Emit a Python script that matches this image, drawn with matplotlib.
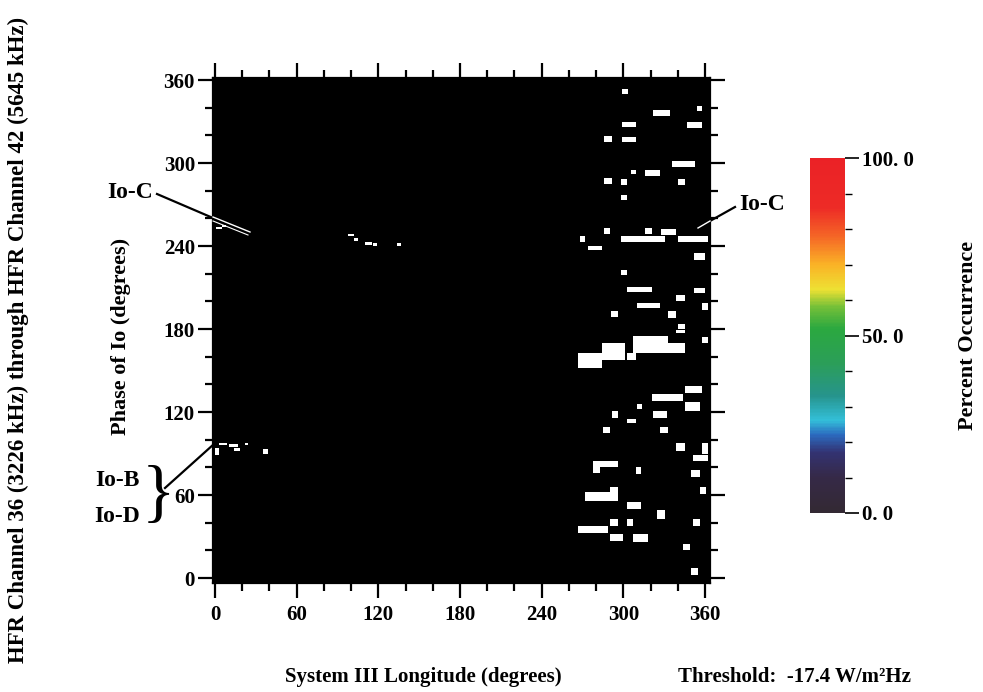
import numpy as np
import matplotlib
matplotlib.use("Agg")
import matplotlib.pyplot as plt
from matplotlib.colors import LinearSegmentedColormap
from matplotlib.cm import ScalarMappable
from matplotlib.colors import Normalize
from matplotlib.lines import Line2D

plt.rcParams['font.family'] = ['Liberation Serif', 'DejaVu Serif']

W, H = 983, 692

# white cells (percent occurrence above threshold): longitude start, width, phase start, height
cell_lon = [299, 322, 354, 299, 347, 286, 299, 336, 316, 306, 286, 298, 340, 298,
            286, 316, 328, 268, 298, 340, 274, 352, 298, 303, 352, 339, 310, 358,
            291, 333, 340, 339, 358, 307, 333, 284, 303, 267, 345, 321, 310, 345,
            292, 322, 303, 285, 327, 339, 358, 351, 278, 278, 309, 350, 356, 272,
            290, 303, 325, 290, 303, 351, 267, 290, 307, 344, 350,
            0, 3, 10, 14, 22, 35,
            1, 5, 98, 102, 110, 116, 134]
cell_dlon = [4.5, 12, 4, 10, 11, 6, 10, 17, 11, 3, 6, 5, 5, 5,
             4, 5, 11, 4, 33, 22, 10, 8, 5, 18, 8, 6, 17, 4,
             5, 6, 5, 6, 4, 26, 12, 17, 6, 17, 13, 23, 4, 11,
             4, 10, 6, 5, 6, 6, 4, 11, 5, 18, 4, 6, 5, 24,
             6, 10, 6, 6, 4, 5, 22, 10, 11, 5, 5,
             3, 6, 7, 4, 2, 4,
             4, 3, 4, 3, 5, 3, 3]
cell_phase = [350, 334, 338, 326, 325, 315, 315, 297, 291, 292, 285, 284, 284, 273,
              249, 249, 248, 243, 243, 243, 237, 230, 219, 207, 206, 200, 195, 194,
              189, 188, 180, 177, 170, 163, 163, 158, 158, 152, 134, 128, 122, 121,
              116, 116, 112, 105, 105, 92, 90, 85, 76, 80, 75, 73, 61, 56,
              62, 50, 43, 38, 38, 38, 33, 27, 26, 20, 2,
              89, 96, 95, 92, 96, 90,
              252, 254, 247, 244, 241, 240, 240]
cell_dphase = [3.5, 4.5, 3, 4, 5, 4.5, 4, 4.5, 4, 3, 4, 4.5, 4.5, 4,
               4, 4, 4.5, 4, 4, 4, 3, 5, 4, 3.5, 4, 5, 4, 5,
               4, 5, 4, 2.5, 4, 12, 7, 12, 5, 11, 5, 5, 4, 6,
               5, 5, 3, 4, 4, 6, 8, 4, 9, 5, 5, 5, 5, 6,
               4, 5, 6, 5, 5, 5, 5, 5, 6, 5, 5,
               5, 2, 2, 2, 2, 3.5,
               2, 1.5, 2, 2, 2, 2, 2]

xticks = [0, 60, 120, 180, 240, 300, 360]
yticks = [0, 60, 120, 180, 240, 300, 360]
cb_ticks = [0, 50, 100]
cb_labels = ['0. 0', '50. 0', '100. 0']


def fx(x):
    return x / W


def fy(y):
    return 1 - y / H


fig = plt.figure(figsize=(W / 100, H / 100), dpi=100)
ax = fig.add_axes([fx(213), fy(583), (710 - 213) / W, (583 - 78) / H])
ax.set_facecolor('black')
ax.bar(cell_lon, cell_dphase, width=cell_dlon, bottom=cell_phase,
       align='edge', color='white', linewidth=0)
ax.set_xlim(-1.5, 363.7)
ax.set_ylim(-3.5, 361.5)

ax.set_xticks(xticks)
ax.set_yticks(yticks)
ax.set_xticks(np.arange(0, 361, 20), minor=True)
ax.set_yticks(np.arange(0, 361, 20), minor=True)
ax.tick_params(which='both', direction='out', top=True, right=True, width=1.6,
               labelsize=15, pad=2)
ax.tick_params(which='major', length=11)
ax.tick_params(which='minor', length=6)
ax.tick_params(axis='x', pad=5)
for lab in ax.get_xticklabels() + ax.get_yticklabels():
    lab.set_fontweight('bold')
for s in ax.spines.values():
    s.set_linewidth(1.6)

# annotation lines: black outside the image, white where they cross it
def seg(p0, p1, color, lw=1.6):
    fig.add_artist(Line2D([fx(p0[0]), fx(p1[0])], [fy(p0[1]), fy(p1[1])],
                          color=color, lw=lw, transform=fig.transFigure))

seg((157, 194), (213, 218), 'black')
seg((213, 217), (250, 232), 'white', 1.0)
seg((213, 221), (248, 235), 'white', 0.8)
seg((735, 207), (710, 221), 'black')
seg((710, 221), (698, 228), 'white', 1.0)
seg((165, 488), (214, 444), 'black')

tk = dict(fontsize=17, fontweight='bold')
fig.text(fx(130), fy(193), 'Io-C', ha='center', va='center', **tk)
fig.text(fx(762), fy(204), 'Io-C', ha='center', va='center', **tk)
fig.text(fx(117), fy(481), 'Io-B', ha='center', va='center', **tk)
fig.text(fx(117), fy(516), 'Io-D', ha='center', va='center', **tk)
fig.text(fx(158), fy(497), '}', ha='center', va='center', fontsize=50,
         fontweight='light', transform=fig.transFigure)

fig.text(fx(18), fy(340), 'HFR Channel 36 (3226 kHz) through HFR Channel 42 (5645 kHz)',
         rotation=90, ha='center', va='center', fontsize=16.5, fontweight='bold')
fig.text(fx(121), fy(336), 'Phase of Io (degrees)', rotation=90,
         ha='center', va='center', fontsize=16, fontweight='bold')
fig.text(fx(423), fy(677), 'System III Longitude (degrees)',
         ha='center', va='center', fontsize=15, fontweight='bold')
fig.text(fx(678), fy(677), 'Threshold:  -17.4 W/m²Hz',
         ha='left', va='center', fontsize=15, fontweight='bold')

# colour scale
cmap = LinearSegmentedColormap.from_list('occ', [
    (0.00, (0.20, 0.16, 0.20)),
    (0.10, (0.21, 0.16, 0.28)),
    (0.17, (0.20, 0.20, 0.45)),
    (0.22, (0.17, 0.42, 0.75)),
    (0.26, (0.20, 0.75, 0.85)),
    (0.33, (0.15, 0.58, 0.55)),
    (0.42, (0.17, 0.62, 0.35)),
    (0.52, (0.17, 0.66, 0.25)),
    (0.58, (0.45, 0.75, 0.22)),
    (0.63, (0.93, 0.88, 0.20)),
    (0.70, (0.98, 0.70, 0.15)),
    (0.78, (0.96, 0.40, 0.15)),
    (0.86, (0.93, 0.17, 0.15)),
    (1.00, (0.92, 0.13, 0.15)),
])
cax = fig.add_axes([fx(810), fy(513), 35 / W, (513 - 158) / H])
cb = fig.colorbar(ScalarMappable(Normalize(0, 100), cmap), cax=cax)
cb.outline.set_visible(False)
cb.set_ticks(cb_ticks, labels=cb_labels)
cb.ax.set_yticks(np.arange(0, 101, 10), minor=True)
cb.ax.tick_params(which='major', length=10, width=1.2, labelsize=15, pad=2)
cb.ax.tick_params(which='minor', length=5, width=1.0)
for lab in cb.ax.get_yticklabels():
    lab.set_fontweight('bold')
fig.text(fx(968), fy(335), 'Percent Occurrence', rotation=90,
         ha='center', va='center', fontsize=16, fontweight='bold')

fig.savefig('out.png', dpi=100, facecolor='white')
